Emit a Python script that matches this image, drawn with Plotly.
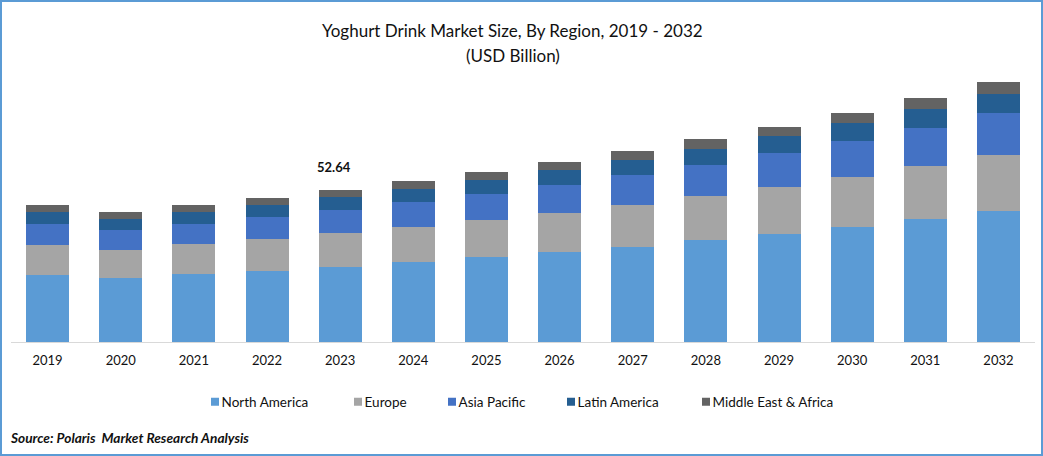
import plotly.graph_objects as go

years = ["2019","2020","2021","2022","2023","2024","2025","2026","2027","2028","2029","2030","2031","2032"]
north_america = [23.2,22.2,23.5,24.6,25.94,27.7,29.4,31.2,32.9,35.3,37.4,39.8,42.6,45.4]
europe = [10.4,9.7,10.4,11.1,11.8,12.1,12.8,13.5,14.5,15.2,16.3,17.3,18.4,19.4]
asia_pacific = [7.3,6.9,6.9,7.6,8.0,8.7,9.0,9.7,10.4,10.7,11.8,12.5,13.2,14.5]
latin_america = [4.2,3.8,4.2,4.2,4.5,4.5,4.8,5.2,5.2,5.5,5.9,6.2,6.6,6.6]
mea = [2.4,2.4,2.4,2.4,2.4,2.8,2.8,2.8,3.1,3.5,3.1,3.5,3.8,4.2]

W, H = 1043, 456
ML, MR, MT, MB = 11, 8, 62, 114
PW, PH = W - ML - MR, H - MT - MB
def px(x): return (x - ML) / PW
def py(y): return (H - MB - y) / PH

series = [
    ("North America", north_america, "#5B9BD5", 222, "legend"),
    ("Europe", europe, "#A5A5A5", 365, "legend2"),
    ("Asia Pacific", asia_pacific, "#4472C4", 459, "legend3"),
    ("Latin America", latin_america, "#255E91", 578, "legend4"),
    ("Middle East & Africa", mea, "#636363", 713, "legend5"),
]
FONT = "Lato, Carlito, Calibri, sans-serif"
INK = "#111"

fig = go.Figure()
legends = {}
for name, vals, color, text_x, lg in series:
    fig.add_trace(go.Bar(x=years, y=vals, name=name, showlegend=True,
                         marker=dict(color=color, line=dict(width=0)), legend=lg))
    legends[lg] = dict(x=px(text_x - 40.4), y=py(402), xref="paper", yref="paper",
                       xanchor="left", yanchor="middle", orientation="h",
                       bgcolor="rgba(0,0,0,0)", font=dict(family=FONT, size=13.5, color=INK))

total_2023 = sum(s[1][years.index("2023")] for s in series)

fig.update_layout(
    width=W, height=H, margin=dict(l=ML, r=MR, t=MT, b=MB, autoexpand=False),
    barmode="stack", bargap=0.412, paper_bgcolor="white", plot_bgcolor="white",
    showlegend=True, font=dict(family=FONT, color=INK),
    xaxis=dict(type="category", range=[-0.5, 13.5], showline=True, linecolor="#D9D9D9", linewidth=1,
               ticks="", ticklabelstandoff=6, tickfont=dict(family=FONT, size=13, color=INK),
               showgrid=False, zeroline=False),
    yaxis=dict(range=[0, 96.95], visible=False, showgrid=False, zeroline=False),
    **legends,
    annotations=[
        dict(text="Yoghurt Drink Market Size, By Region, 2019 - 2032", xref="paper", yref="paper",
             x=px(512.5), y=py(31), xanchor="center", yanchor="middle", showarrow=False,
             font=dict(family=FONT, size=17, color=INK)),
        dict(text="(USD Billion)", xref="paper", yref="paper",
             x=px(512.5), y=py(55), xanchor="center", yanchor="middle", showarrow=False,
             font=dict(family=FONT, size=17, color=INK)),
        dict(text="<b>52.64</b>", xref="x", yref="y", x=years.index("2023"), y=total_2023, yshift=23, xshift=-6,
             showarrow=False, font=dict(family=FONT, size=13, color=INK)),
        dict(text="<b><i>Source: Polaris  Market Research Analysis</i></b>", xref="paper", yref="paper",
             x=px(8), y=py(437), xanchor="left", yanchor="middle", showarrow=False,
             font=dict(family=FONT, size=13.7, color=INK)),
    ],
    shapes=[dict(type="rect", xref="paper", yref="paper", x0=px(1), x1=px(1042), y0=py(455), y1=py(1),
                 line=dict(color="#5B9BD5", width=2), layer="above")],
)
# Plotly's legend swatch is fixed at 12px, 14px from its label; the reference has 8px, 3px away.
post = """
function tweak(){
  document.querySelectorAll('.legendsymbols').forEach(function(g){ g.setAttribute('transform','translate(13.4,0)'); });
  document.querySelectorAll('.legendpoints path').forEach(function(p){ p.setAttribute('d','M4,4H-4V-4H4Z'); });
}
tweak(); setTimeout(tweak, 50);
document.body.style.margin='0';
"""
fig.write_html("out.html", post_script=post, config={"displayModeBar": False})
